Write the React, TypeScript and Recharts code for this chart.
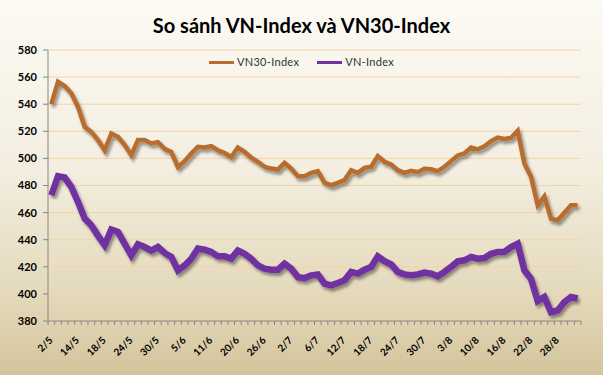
import React from 'react';
import { LineChart, Line, XAxis, YAxis, CartesianGrid, Legend } from 'recharts';

const title = 'So sánh VN-Index và VN30-Index';

const dates = [
  '2/5', '3/5', '4/5', '11/5',
  '14/5', '15/5', '16/5', '17/5',
  '18/5', '21/5', '22/5', '23/5',
  '24/5', '25/5', '28/5', '29/5',
  '30/5', '31/5', '1/6', '4/6',
  '5/6', '6/6', '7/6', '8/6',
  '11/6', '12/6', '13/6', '14/6',
  '20/6', '21/6', '22/6', '25/6',
  '26/6', '27/6', '28/6', '29/6',
  '2/7', '3/7', '4/7', '5/7',
  '6/7', '9/7', '10/7', '11/7',
  '12/7', '13/7', '16/7', '17/7',
  '18/7', '19/7', '20/7', '23/7',
  '24/7', '25/7', '26/7', '27/7',
  '30/7', '31/7', '1/8', '2/8',
  '3/8', '6/8', '7/8', '8/8',
  '10/8', '13/8', '14/8', '15/8',
  '16/8', '17/8', '20/8', '21/8',
  '22/8', '23/8', '24/8', '27/8',
  '28/8', '29/8', '30/8', '31/8',
];

const vn30Index = [
  540.0, 556.6, 553.4, 548.0, 538.0, 523.3, 519.6, 513.5, 506.0, 518.4,
  516.0, 510.0, 502.4, 513.5, 513.5, 511.0, 512.0, 507.0, 504.8, 493.7,
  498.0, 503.6, 508.5, 508.0, 509.0, 506.0, 504.0, 501.0, 508.0, 504.8,
  500.6, 497.5, 493.8, 492.5, 491.8, 496.7, 492.5, 486.9, 486.9, 489.3,
  490.6, 482.0, 480.2, 482.0, 484.0, 491.3, 489.3, 493.0, 493.8, 501.7,
  497.5, 495.5, 491.3, 489.3, 490.8, 489.8, 492.3, 492.0, 490.6, 493.8,
  498.0, 502.2, 503.6, 508.0, 506.6, 509.0, 512.7, 515.4, 514.4, 515.2,
  520.4, 496.2, 486.4, 465.4, 472.0, 455.6, 454.4, 459.8, 465.4, 465.4,
];

const vnIndex = [
  472.8, 486.9, 485.9, 479.0, 467.9, 455.6, 450.6, 443.0, 436.0, 447.4,
  445.7, 437.0, 428.5, 436.6, 434.6, 432.0, 434.6, 430.2, 427.3, 417.4,
  421.0, 426.0, 433.5, 432.7, 431.0, 427.7, 427.7, 426.0, 432.0, 429.6,
  426.0, 421.0, 418.6, 417.9, 417.9, 422.3, 418.6, 412.4, 411.7, 413.7,
  414.4, 407.5, 406.3, 408.0, 410.0, 416.2, 415.0, 417.9, 419.9, 427.7,
  424.2, 421.8, 416.2, 414.4, 413.7, 414.4, 415.7, 415.0, 413.0, 416.2,
  419.9, 424.0, 424.8, 427.3, 426.0, 426.5, 429.6, 431.0, 431.0, 434.6,
  437.0, 417.4, 411.2, 394.8, 397.8, 386.5, 387.8, 394.0, 397.7, 396.6,
];

const seriesNames = ['VN30-Index', 'VN-Index'];
const yTicks = [380, 400, 420, 440, 460, 480, 500, 520, 540, 560, 580];
const labelEvery = 4;

const data = dates.map((d, i) => ({ date: d, vn30: vn30Index[i], vn: vnIndex[i] }));

const AXIS_COLOR = '#868686';
const FONT = 'Lato, "Open Sans", sans-serif';

const XTick = (props: any) => {
  const { x, y, payload, index, width } = props;
  const step = width / dates.length;
  const axisY = y - 6;
  const bx = x - step / 2;
  const isLast = index === dates.length - 1;
  return (
    <g>
      <line x1={bx} y1={axisY} x2={bx} y2={axisY + 4} stroke={AXIS_COLOR} strokeWidth={1} />
      {isLast && (
        <line x1={x + step / 2} y1={axisY} x2={x + step / 2} y2={axisY + 4} stroke={AXIS_COLOR} strokeWidth={1} />
      )}
      {index % labelEvery === 0 && (
        <text
          x={x + 2}
          y={y + 14}
          textAnchor="end"
          transform={`rotate(-45, ${x + 2}, ${y + 14})`}
          fontSize={10}
          fontWeight="bold"
          fill="#000"
          fontFamily={FONT}
        >
          {payload.value}
        </text>
      )}
    </g>
  );
};

const LegendContent = (props: any) => {
  const items = [...(props.payload || [])].sort(
    (a: any, b: any) => seriesNames.indexOf(a.value) - seriesNames.indexOf(b.value)
  );
  return (
    <div style={{ display: 'flex', justifyContent: 'center', gap: 18, fontFamily: FONT, fontSize: 11, color: '#333', lineHeight: '14px' }}>
      {items.map((p: any) => (
        <div key={p.value} style={{ display: 'flex', alignItems: 'center' }}>
          <div style={{ width: 25, height: 3, background: p.color, marginRight: 3 }} />
          <span style={{ letterSpacing: 0.3 }}>{p.value}</span>
        </div>
      ))}
    </div>
  );
};

export default function App() {
  return (
    <div
      style={{
        position: 'absolute',
        left: 0,
        top: 0,
        width: 603,
        height: 375,
        background: 'linear-gradient(to bottom, #fcfaf4 0%, #f3eee0 45%, #e3d8b9 80%, #d3c49b 100%)',
        overflow: 'hidden',
      }}
    >
      <div
        style={{
          position: 'absolute',
          top: 13,
          left: 0,
          width: 603,
          textAlign: 'center',
          fontFamily: FONT,
          fontWeight: 'bold',
          fontSize: 20,
          lineHeight: '24px',
          color: '#000',
        }}
      >
        {title}
      </div>
      <LineChart
        width={603}
        height={375}
        data={data}
        margin={{ top: 36, right: 22, bottom: 0, left: 0 }}
      >
        <defs>
          <filter id="lineShadow" x="-10%" y="-10%" width="120%" height="130%">
            <feGaussianBlur in="SourceAlpha" stdDeviation="1.5" />
            <feOffset dx="2" dy="3" result="off" />
            <feComponentTransfer>
              <feFuncA type="linear" slope="0.4" />
            </feComponentTransfer>
            <feMerge>
              <feMergeNode />
              <feMergeNode in="SourceGraphic" />
            </feMerge>
          </filter>
        </defs>
        <CartesianGrid vertical={false} stroke="#f6d3a6" strokeWidth={1} />
        <XAxis
          dataKey="date"
          interval={0}
          height={54}
          tickSize={4}
          tickMargin={2}
          tickLine={false}
          padding={{ left: 533 / 160, right: 533 / 160 }}
          axisLine={{ stroke: AXIS_COLOR }}
          tick={<XTick />}
        />
        <YAxis
          width={48}
          domain={[380, 580]}
          ticks={yTicks}
          interval={0}
          tickSize={5}
          tickMargin={6}
          axisLine={{ stroke: AXIS_COLOR }}
          tickLine={{ stroke: AXIS_COLOR }}
          tick={{ fontSize: 11, fontWeight: 'bold', fill: '#000', fontFamily: FONT }}
        />
        <Legend
          verticalAlign="top"
          content={<LegendContent />}
          wrapperStyle={{ top: 55, left: 0, width: 603 }}
        />
        <Line
          name={seriesNames[0]}
          dataKey="vn30"
          stroke="#b86c2e"
          strokeWidth={4.5}
          dot={false}
          activeDot={false}
          filter="url(#lineShadow)"
          strokeLinejoin="miter"
          isAnimationActive={false}
        />
        <Line
          name={seriesNames[1]}
          dataKey="vn"
          stroke="#7030a0"
          strokeWidth={6.5}
          dot={false}
          activeDot={false}
          filter="url(#lineShadow)"
          strokeLinejoin="miter"
          isAnimationActive={false}
        />
      </LineChart>
    </div>
  );
}
